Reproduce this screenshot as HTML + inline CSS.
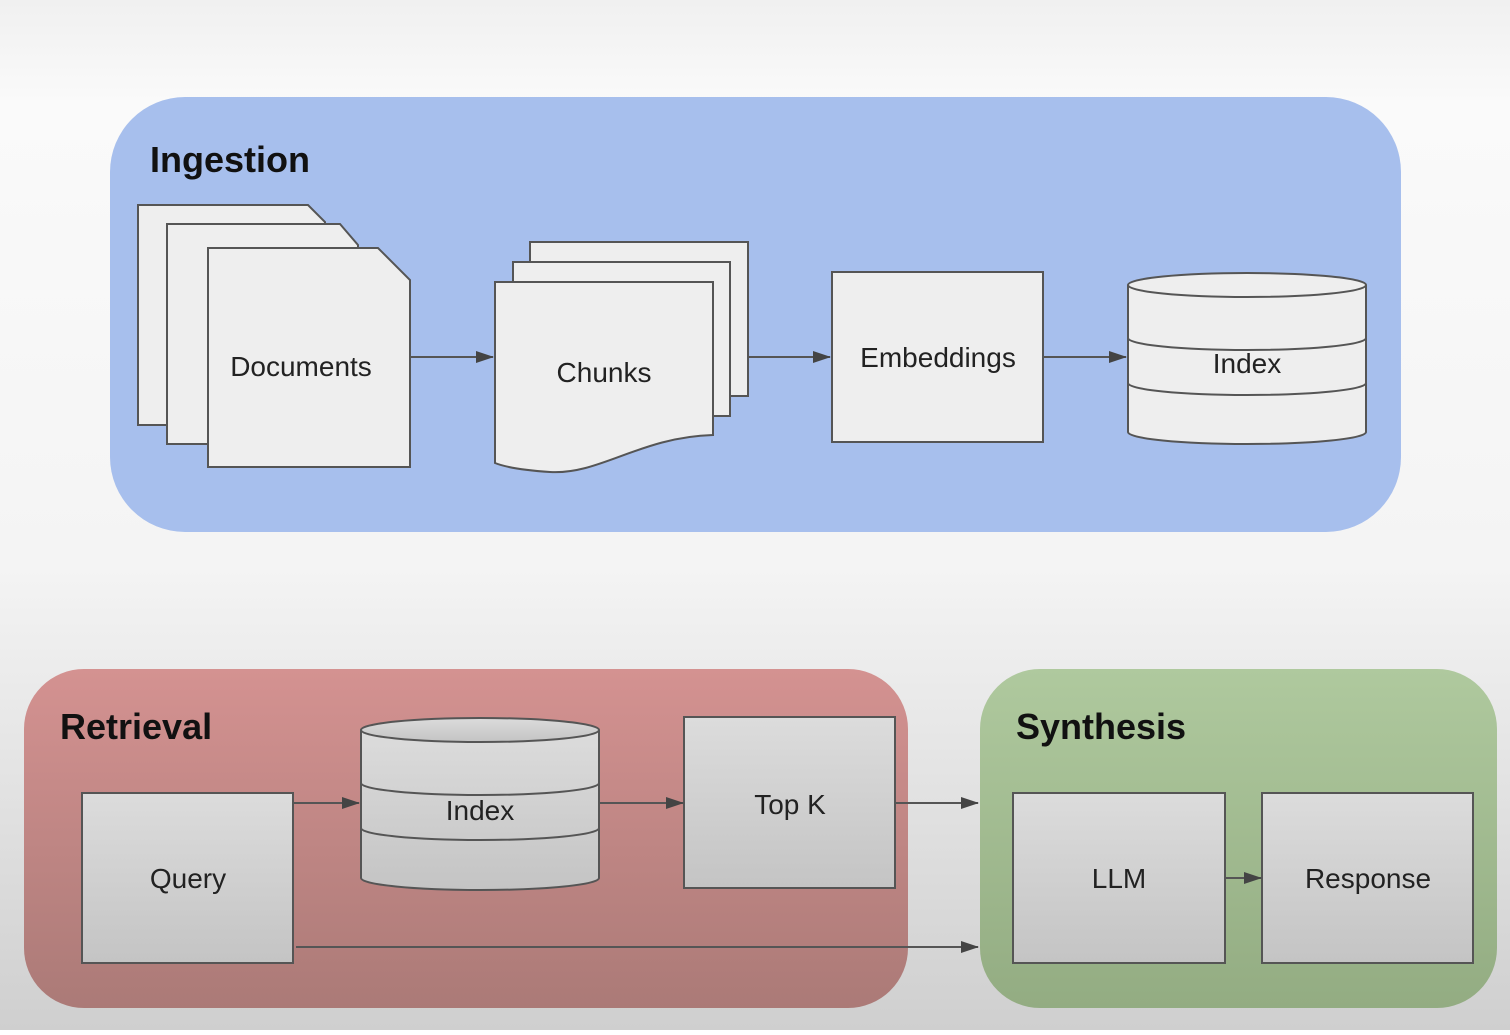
<!DOCTYPE html>
<html><head><meta charset="utf-8"><style>
html,body{margin:0;padding:0;}
body{width:1510px;height:1030px;overflow:hidden;font-family:"Liberation Sans",Arial,sans-serif;}
</style></head><body>
<svg width="1510" height="1030" viewBox="0 0 1510 1030" xmlns="http://www.w3.org/2000/svg" font-family="Liberation Sans, Arial, sans-serif">
<defs>
<linearGradient id="bg" x1="0" y1="0" x2="0" y2="1">
<stop offset="0" stop-color="#f0f0f0"/><stop offset="0.1" stop-color="#fafafa"/><stop offset="0.55" stop-color="#f4f4f4"/><stop offset="1" stop-color="#cfcfcf"/></linearGradient>
<linearGradient id="red" x1="0" y1="0" x2="0" y2="1"><stop offset="0" stop-color="#d49291"/><stop offset="1" stop-color="#ab7a77"/></linearGradient>
<linearGradient id="grn" x1="0" y1="0" x2="0" y2="1"><stop offset="0" stop-color="#afc99e"/><stop offset="1" stop-color="#93ac82"/></linearGradient>
<linearGradient id="gb" x1="0" y1="0" x2="0" y2="1"><stop offset="0" stop-color="#dcdcdc"/><stop offset="1" stop-color="#c4c4c4"/></linearGradient>
<marker id="ar" markerWidth="18" markerHeight="14" refX="17" refY="7" orient="auto" markerUnits="userSpaceOnUse"><path d="M0,1 L18,7 L0,13 Z" fill="#444"/></marker>
</defs>
<rect width="1510" height="1030" fill="url(#bg)"/>
<rect x="110" y="97" width="1291" height="435" rx="75" fill="#a7bfed"/>
<text x="150" y="172" font-size="36" font-weight="bold" fill="#111">Ingestion</text>
<g stroke="#555" stroke-width="2" fill="#eeeeee">
<path d="M138,205 H308 L325,222 V425 H138 Z"/>
<path d="M167,224 H340 L358,245 V444 H167 Z"/>
<path d="M208,248 H378 L410,280 V467 H208 Z"/>
<path d="M530,242 H748 V396 H530 Z"/>
<path d="M513,262 H730 V416 H513 Z"/>
<path d="M495,282 H713 V435 C640,437 600,475 550,472 C520,470 505,467 495,463 Z"/>
<rect x="832" y="272" width="211" height="170"/>
<path d="M1128,285 V432 A119,12 0 0 0 1366,432 V285"/>
<ellipse cx="1247" cy="285" rx="119" ry="12"/>
<path d="M1128,338 A119,12 0 0 0 1366,338" fill="none"/>
<path d="M1128,383 A119,12 0 0 0 1366,383" fill="none"/>
</g>
<g stroke="#555" stroke-width="2">
<line x1="411" y1="357" x2="493" y2="357" marker-end="url(#ar)"/>
<line x1="749" y1="357" x2="830" y2="357" marker-end="url(#ar)"/>
<line x1="1044" y1="357" x2="1126" y2="357" marker-end="url(#ar)"/>
</g>
<g font-size="28" fill="#222" text-anchor="middle">
<text x="301" y="376">Documents</text>
<text x="604" y="382">Chunks</text>
<text x="938" y="367">Embeddings</text>
<text x="1247" y="373">Index</text>
</g>
<rect x="24" y="669" width="884" height="339" rx="60" fill="url(#red)"/>
<rect x="980" y="669" width="517" height="339" rx="60" fill="url(#grn)"/>
<text x="60" y="739" font-size="36" font-weight="bold" fill="#111">Retrieval</text>
<text x="1016" y="739" font-size="36" font-weight="bold" fill="#111">Synthesis</text>
<g stroke="#555" stroke-width="2" fill="url(#gb)">
<rect x="82" y="793" width="211" height="170"/>
<path d="M361,730 V878 A119,12 0 0 0 599,878 V730"/>
<ellipse cx="480" cy="730" rx="119" ry="12"/>
<path d="M361,783 A119,12 0 0 0 599,783" fill="none"/>
<path d="M361,828 A119,12 0 0 0 599,828" fill="none"/>
<rect x="684" y="717" width="211" height="171"/>
<rect x="1013" y="793" width="212" height="170"/>
<rect x="1262" y="793" width="211" height="170"/>
</g>
<g stroke="#555" stroke-width="2">
<line x1="294" y1="803" x2="359" y2="803" marker-end="url(#ar)"/>
<line x1="600" y1="803" x2="683" y2="803" marker-end="url(#ar)"/>
<line x1="896" y1="803" x2="978" y2="803" marker-end="url(#ar)"/>
<line x1="296" y1="947" x2="978" y2="947" marker-end="url(#ar)"/>
<line x1="1226" y1="878" x2="1261" y2="878" marker-end="url(#ar)"/>
</g>
<g font-size="28" fill="#222" text-anchor="middle">
<text x="188" y="888">Query</text>
<text x="480" y="820">Index</text>
<text x="790" y="814">Top K</text>
<text x="1119" y="888">LLM</text>
<text x="1368" y="888">Response</text>
</g>
</svg>
</body></html>
